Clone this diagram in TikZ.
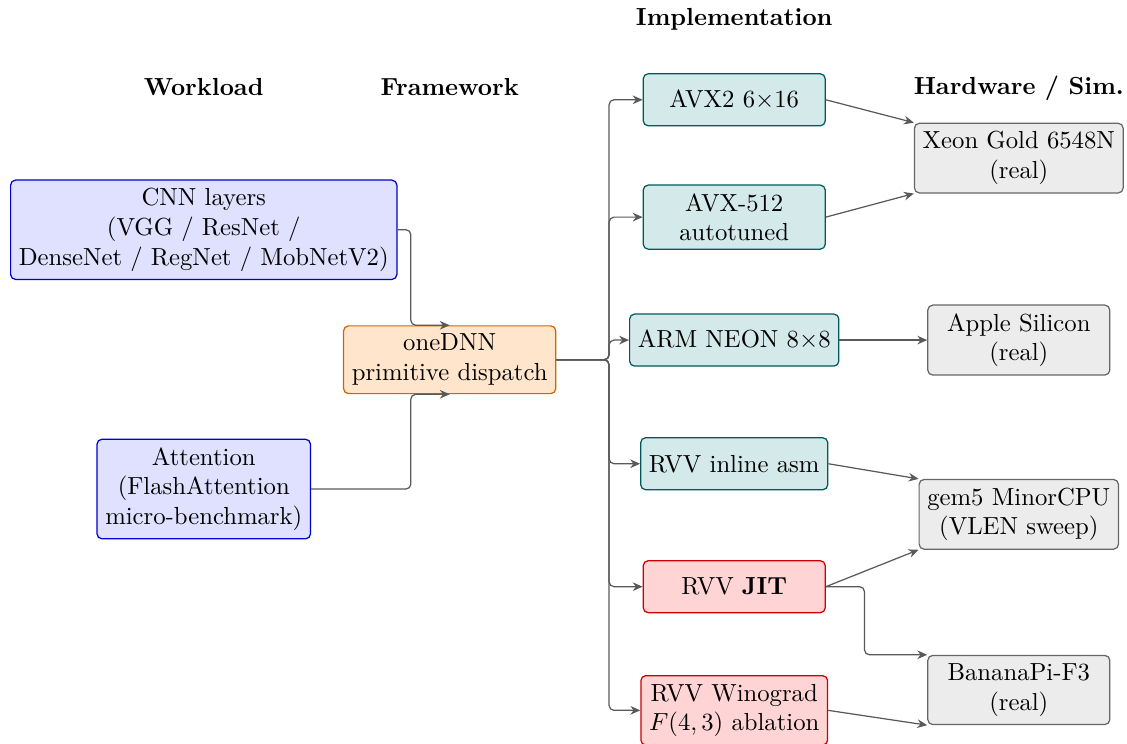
\documentclass[tikz,border=0pt]{standalone}
\usepackage{amsmath}
\usetikzlibrary{positioning, arrows.meta, calc}

\tikzset{
    box/.style={draw, rounded corners=2pt, align=center, minimum width=2.59cm, minimum height=0.74cm, line width=0.5pt},
    workload/.style={box, fill=blue!12, draw=blue!80!black},
    framework/.style={box, fill=orange!20, draw=orange!80!black},
    impl/.style={box, fill=teal!17, draw=teal!70!black},
    rvvimpl/.style={box, fill=red!17, draw=red!80!black},
    hw/.style={box, fill=gray!15, draw=black!60},
    heading/.style={font=\bfseries},
    conn/.style={draw=black!65, line width=0.5pt, rounded corners=2pt, -{Stealth[length=4pt, width=3.5pt]}}
}

\begin{document}
\begin{tikzpicture}[on grid, node distance=1.75cm]
    \useasboundingbox (0,0) rectangle (16.04,-10.58);

    % framework and workloads
    \node[framework] (dnn) at (6.40,-5.12) {oneDNN\\primitive dispatch};
    \node[workload, above left=1.85cm and 3.50cm of dnn] (cnn) {CNN layers\\(VGG / ResNet /\\DenseNet / RegNet / MobNetV2)};
    \node[workload, below left=1.84cm and 3.50cm of dnn] (attn) {Attention\\(FlashAttention\\micro-benchmark)};

    % implementations
    \node[impl, above right=0.28cm and 4.05cm of dnn] (neon) {ARM NEON $8{\times}8$};
    \node[impl, above=of neon] (avx512) {AVX-512\\autotuned};
    \node[impl, above=1.67cm of avx512] (avx2) {AVX2 $6{\times}16$};
    \node[impl, below=1.76cm of neon] (rvvasm) {RVV inline asm};
    \node[rvvimpl, below=of rvvasm] (jit) {RVV \textbf{JIT}};
    \node[rvvimpl, below=1.76cm of jit] (wino) {RVV Winograd\\$F(4,3)$ ablation};

    % hardware
    \node[hw, right=4.05cm of neon] (apple) {Apple Silicon\\(real)};
    \node[hw, above=2.59cm of apple] (xeon) {Xeon Gold 6548N\\(real)};
    \node[hw, below=2.48cm of apple] (gem5) {gem5 MinorCPU\\(VLEN sweep)};
    \node[hw, below=4.98cm of apple] (banana) {BananaPi-F3\\(real)};

    % headings
    \node[heading, above=2.03cm of cnn] (hworkload) {Workload};
    \node[heading, above=3.88cm of dnn] (hframework) {Framework};
    \node[heading, above=1.14cm of avx2] (himpl) {Implementation};
    \node[heading, above=1.00cm of xeon] (hhw) {Hardware / Sim.};

    % workloads into oneDNN
    \coordinate (merge) at ($(cnn.east)+(0.19,0)$);
    \draw[conn] (cnn.east) -- (merge) |- (dnn.north);
    \draw[conn] (attn.east) -- (attn.east -| merge) |- (dnn.south);

    % oneDNN fans out
    \coordinate (split) at ($(dnn.east)+(0.75,0)$);
    \foreach \n in {avx2, avx512, neon, rvvasm, jit, wino}
        \draw[conn] (dnn.east) -- (split) |- (\n.west);

    % implementations onto hardware
    \draw[conn] (avx2.east) -- (xeon.north west);
    \draw[conn] (avx512.east) -- (xeon.south west);
    \draw[conn] (neon.east) -- (apple.west);
    \draw[conn] (rvvasm.east) -- (gem5.north west);
    \draw[conn] (jit.east) -- (gem5.south west);
    \draw[conn] (jit.east) -- ++(0.55,0) |- (banana.north west);
    \draw[conn] (wino.east) -- (banana.south west);
\end{tikzpicture}
\end{document}
